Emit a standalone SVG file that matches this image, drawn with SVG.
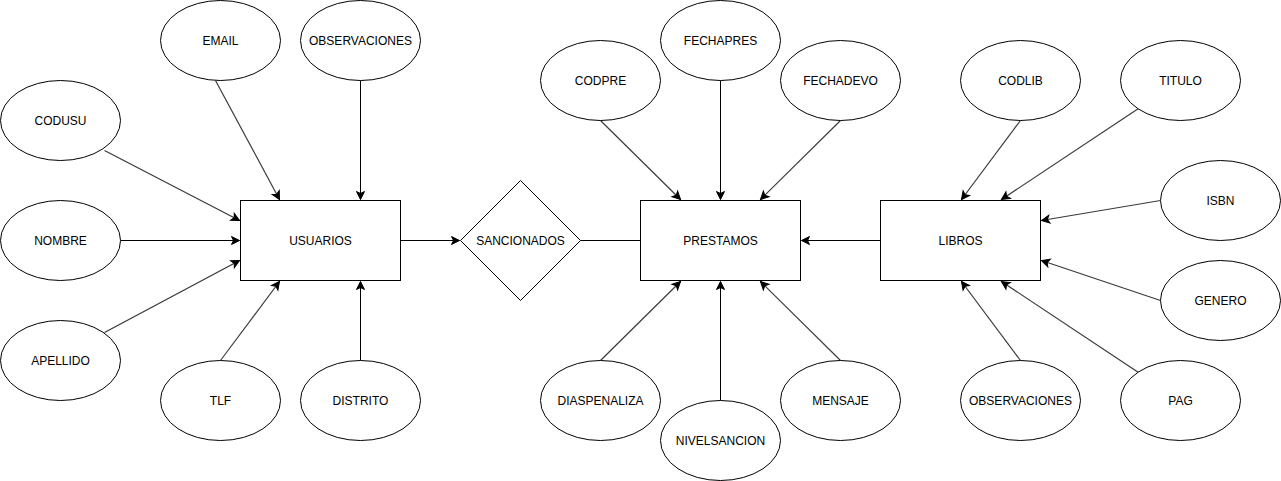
<svg xmlns="http://www.w3.org/2000/svg" width="1281" height="481" viewBox="0 0 1281 481">
<defs>
<style>
.n{fill:#fff;stroke:#000;stroke-width:1}
.t{font-family:"Liberation Sans",Arial,sans-serif;font-size:12px;fill:#000;text-anchor:middle;dominant-baseline:central}
.c{stroke:#000;stroke-width:1;fill:none}
.d{stroke:#3a3a3a;stroke-width:1.2;fill:none}
.a{marker-end:url(#arr)}
</style>
<marker id="arr" markerUnits="userSpaceOnUse" markerWidth="12" markerHeight="12" viewBox="-10 -6 12 12" refX="0" refY="0" orient="auto">
<path d="M-8,-4 L0,0 L-8,4 L-6,0 Z" fill="#000" stroke="#000" stroke-width="1"/>
</marker>
</defs>
<rect width="1281" height="481" fill="#fff"/>
<g transform="translate(0.5,0.5)">
<g id="connectors">
<line class="d a" x1="215" y1="80" x2="279" y2="199"/>
<line class="c a" x1="360" y1="80" x2="360" y2="199"/>
<line class="d a" x1="104" y1="150" x2="239" y2="220"/>
<line class="c a" x1="120" y1="240" x2="239" y2="240"/>
<line class="d a" x1="104" y1="332" x2="239" y2="260"/>
<line class="d a" x1="220" y1="360" x2="279" y2="281"/>
<line class="c a" x1="360" y1="360" x2="360" y2="281"/>
<line class="c a" x1="400" y1="240" x2="459" y2="240"/>
<line class="c" x1="580" y1="240" x2="640" y2="240"/>
<line class="c a" x1="880" y1="240" x2="801" y2="240"/>
<line class="d a" x1="600" y1="120" x2="680" y2="199"/>
<line class="c a" x1="720" y1="80" x2="720" y2="199"/>
<line class="d a" x1="840" y1="120" x2="760" y2="199"/>
<line class="d a" x1="600" y1="360" x2="680" y2="281"/>
<line class="c a" x1="720" y1="400" x2="720" y2="281"/>
<line class="d a" x1="840" y1="360" x2="760" y2="281"/>
<line class="d a" x1="1020" y1="120" x2="961" y2="199"/>
<line class="d a" x1="1138" y1="108" x2="1001" y2="199"/>
<line class="d a" x1="1160" y1="200" x2="1041" y2="220"/>
<line class="d a" x1="1160" y1="300" x2="1041" y2="260"/>
<line class="d a" x1="1020" y1="360" x2="961" y2="281"/>
<line class="d a" x1="1138" y1="372" x2="1001" y2="281"/>
</g>
<g id="usuarios"><rect class="n" x="240" y="200" width="160" height="80"/><text class="t" x="320" y="240">USUARIOS</text></g>
<g id="sancionados"><polygon class="n" points="520,180 580,240 520,300 460,240"/><text class="t" x="520" y="240">SANCIONADOS</text></g>
<g id="prestamos"><rect class="n" x="640" y="200" width="160" height="80"/><text class="t" x="720" y="240">PRESTAMOS</text></g>
<g id="libros"><rect class="n" x="880" y="200" width="160" height="80"/><text class="t" x="960" y="240">LIBROS</text></g>
<g id="email"><ellipse class="n" cx="220" cy="40" rx="60" ry="40"/><text class="t" x="220" y="40">EMAIL</text></g>
<g id="observaciones1"><ellipse class="n" cx="360" cy="40" rx="60" ry="40"/><text class="t" x="360" y="40">OBSERVACIONES</text></g>
<g id="codusu"><ellipse class="n" cx="60" cy="120" rx="60" ry="40"/><text class="t" x="60" y="120">CODUSU</text></g>
<g id="nombre"><ellipse class="n" cx="60" cy="240" rx="60" ry="40"/><text class="t" x="60" y="240">NOMBRE</text></g>
<g id="apellido"><ellipse class="n" cx="60" cy="360" rx="60" ry="40"/><text class="t" x="60" y="360">APELLIDO</text></g>
<g id="tlf"><ellipse class="n" cx="220" cy="400" rx="60" ry="40"/><text class="t" x="220" y="400">TLF</text></g>
<g id="distrito"><ellipse class="n" cx="360" cy="400" rx="60" ry="40"/><text class="t" x="360" y="400">DISTRITO</text></g>
<g id="codpre"><ellipse class="n" cx="600" cy="80" rx="60" ry="40"/><text class="t" x="600" y="80">CODPRE</text></g>
<g id="fechapres"><ellipse class="n" cx="720" cy="40" rx="60" ry="40"/><text class="t" x="720" y="40">FECHAPRES</text></g>
<g id="fechadevo"><ellipse class="n" cx="840" cy="80" rx="60" ry="40"/><text class="t" x="840" y="80">FECHADEVO</text></g>
<g id="diaspenaliza"><ellipse class="n" cx="600" cy="400" rx="60" ry="40"/><text class="t" x="600" y="400">DIASPENALIZA</text></g>
<g id="nivelsancion"><ellipse class="n" cx="720" cy="440" rx="60" ry="40"/><text class="t" x="720" y="440">NIVELSANCION</text></g>
<g id="mensaje"><ellipse class="n" cx="840" cy="400" rx="60" ry="40"/><text class="t" x="840" y="400">MENSAJE</text></g>
<g id="codlib"><ellipse class="n" cx="1020" cy="80" rx="60" ry="40"/><text class="t" x="1020" y="80">CODLIB</text></g>
<g id="titulo"><ellipse class="n" cx="1180" cy="80" rx="60" ry="40"/><text class="t" x="1180" y="80">TITULO</text></g>
<g id="isbn"><ellipse class="n" cx="1220" cy="200" rx="60" ry="40"/><text class="t" x="1220" y="200">ISBN</text></g>
<g id="genero"><ellipse class="n" cx="1220" cy="300" rx="60" ry="40"/><text class="t" x="1220" y="300">GENERO</text></g>
<g id="observaciones2"><ellipse class="n" cx="1020" cy="400" rx="60" ry="40"/><text class="t" x="1020" y="400">OBSERVACIONES</text></g>
<g id="pag"><ellipse class="n" cx="1180" cy="400" rx="60" ry="40"/><text class="t" x="1180" y="400">PAG</text></g>
</g>
</svg>
